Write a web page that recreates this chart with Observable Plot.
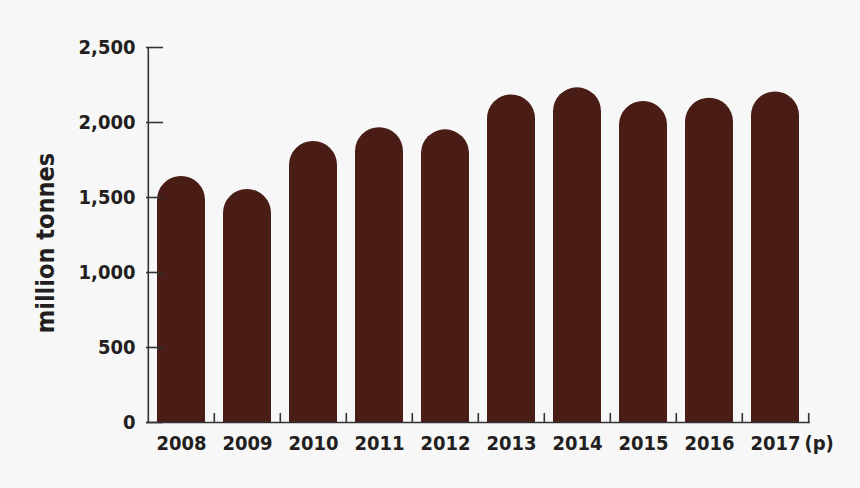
<!DOCTYPE html>
<html>
<head>
<meta charset="utf-8">
<script src="https://cdn.jsdelivr.net/npm/d3@7"></script>
<script src="https://cdn.jsdelivr.net/npm/@observablehq/plot@0.6"></script>
<style>
  html, body { margin: 0; padding: 0; background: #f7f7f7; }
  #chart svg { display: block; }
  #chart svg text { font-stretch: condensed; }
</style>
</head>
<body>
<div id="chart"></div>
<script>
const years = ["2008", "2009", "2010", "2011", "2012", "2013", "2014", "2015", "2016", "2017"];
const values = [1640, 1553, 1873, 1965, 1951, 2184, 2231, 2140, 2162, 2204];
const yTicks = [0, 500, 1000, 1500, 2000, 2500];
const yLabel = "million tonnes";
const lastNote = "(p)";

const data = years.map((y, i) => ({year: y, value: values[i]}));

const W = 860, H = 488;
const mL = 146, mR = 50, mT = 47, mB = 66;
const frameW = W - mL - mR;
const frameH = H - mT - mB;
const step = frameW / years.length;
const padInner = 0.28;
const bw = step * (1 - padInner);
const font = `"DejaVu Sans", sans-serif`;
const barColor = "#4a1c16";
const axisColor = "#333333";
const textColor = "#231f20";
const fs = 20;

const chart = Plot.plot({
  width: W,
  height: H,
  marginLeft: mL,
  marginRight: mR,
  marginTop: mT,
  marginBottom: mB,
  style: {background: "#f7f7f7", fontFamily: font, fontWeight: "bold", fontSize: fs + "px", color: textColor, overflow: "visible"},
  x: {domain: years, paddingInner: padInner, paddingOuter: padInner / 2},
  y: {domain: [0, 2500]},
  marks: [
    // rounded tops
    Plot.barY(data, {x: "year", y: "value", fill: barColor, rx: bw / 2, ry: bw / 2}),
    // square lower part
    Plot.barY(data, {x: "year", y: "value", fill: barColor, insetTop: bw / 2}),
    // axes
    Plot.axisY(yTicks, {tickSize: 0, tickPadding: 11, tickFormat: d3.format(","), fill: textColor, fontSize: fs, fontWeight: "bold", label: null}),
    Plot.axisX(years, {tickSize: 0, tickPadding: 13, fill: textColor, fontSize: fs, fontWeight: "bold", label: null}),
    // y axis line
    Plot.tickX([years[0]], {x: d => d, dx: -step / 2, stroke: axisColor, strokeWidth: 1.6}),
    // y ticks pointing inward
    Plot.tickY(yTicks, {y: d => d, insetRight: frameW - 17, stroke: axisColor, strokeWidth: 1.6}),
    // x axis line
    Plot.ruleY([0], {stroke: axisColor, strokeWidth: 1.6}),
    // x ticks at band boundaries pointing up
    Plot.tickX(years.slice(1), {x: d => d, dx: -step / 2, insetTop: frameH - 9, stroke: axisColor, strokeWidth: 1.6}),
    Plot.tickX([years[years.length - 1]], {x: d => d, dx: step / 2, insetTop: frameH - 9, stroke: axisColor, strokeWidth: 1.6}),
    // (p) note
    Plot.text([lastNote], {x: () => years[years.length - 1], y: () => 0, dx: 29, dy: 13, text: d => d, textAnchor: "start", lineAnchor: "top", fill: textColor, fontSize: fs, fontWeight: "bold"}),
    // y label
    Plot.text([yLabel], {frameAnchor: "left", dx: -101, dy: 8, rotate: -90, text: d => d, textAnchor: "middle", fill: textColor, fontSize: 25, fontWeight: "bold"})
  ]
});
document.getElementById("chart").appendChild(chart);
</script>
</body>
</html>
